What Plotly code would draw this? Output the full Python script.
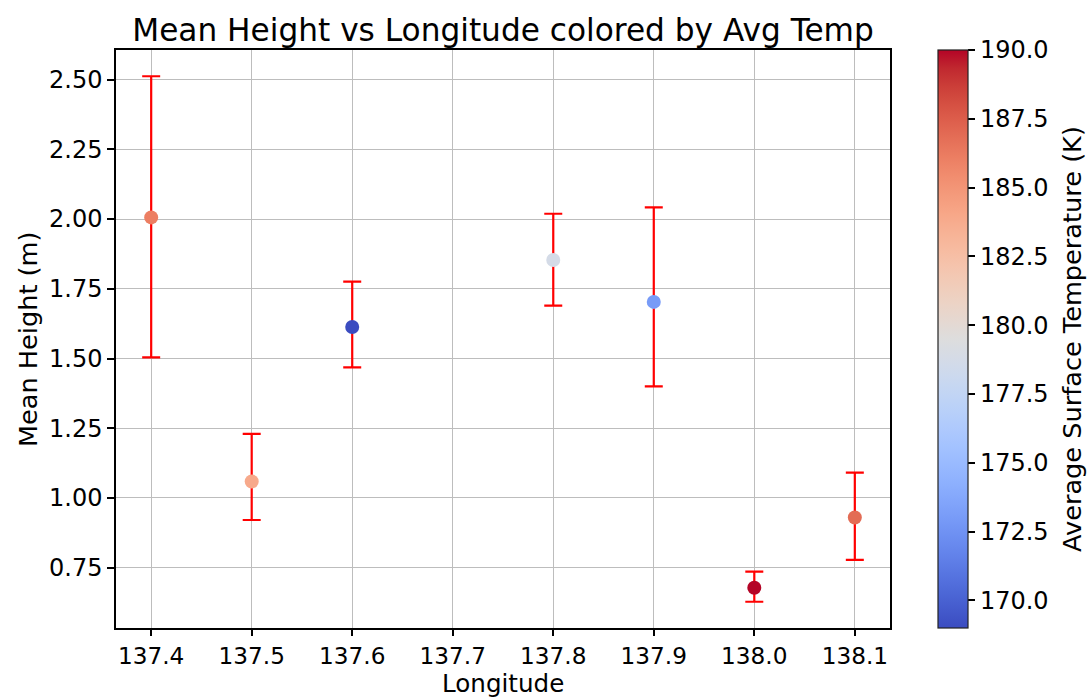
import plotly.graph_objects as go

# Site measurements
longitude = [137.4, 137.5, 137.6, 137.8, 137.9, 138.0, 138.1]
mean_height = [2.006, 1.059, 1.613, 1.853, 1.703, 0.678, 0.930]
height_err_plus = [0.506, 0.171, 0.163, 0.166, 0.339, 0.058, 0.161]
height_err_minus = [0.502, 0.138, 0.145, 0.163, 0.303, 0.050, 0.152]
avg_temp = [186.1, 183.9, 169.0, 178.8, 173.0, 190.0, 186.9]

x_ticks = [137.4, 137.5, 137.6, 137.7, 137.8, 137.9, 138.0, 138.1]
y_ticks = [0.75, 1.00, 1.25, 1.50, 1.75, 2.00, 2.25, 2.50]
cbar_ticks = [170.0, 172.5, 175.0, 177.5, 180.0, 182.5, 185.0, 187.5, 190.0]

# Moreland "coolwarm" diverging map
coolwarm_rgb = [
    (59, 76, 192), (68, 90, 204), (77, 104, 215), (87, 117, 225),
    (98, 130, 234), (108, 142, 241), (119, 154, 247), (130, 165, 251),
    (141, 176, 254), (152, 185, 255), (163, 194, 255), (174, 201, 253),
    (184, 208, 249), (194, 213, 244), (204, 217, 238), (213, 219, 230),
    (221, 221, 221), (229, 216, 209), (236, 211, 197), (241, 204, 185),
    (245, 196, 173), (247, 187, 160), (247, 177, 148), (247, 166, 135),
    (244, 154, 123), (241, 141, 111), (236, 127, 99), (229, 112, 88),
    (222, 96, 77), (213, 80, 66), (203, 62, 56), (192, 40, 47),
    (180, 4, 38),
]
n = len(coolwarm_rgb) - 1
coolwarm = [[i / n, f"rgb{c}"] for i, c in enumerate(coolwarm_rgb)]

FONT = "DejaVu Sans"
W, H = 1091, 698
L, R, T, B = 116, 890, 50, 628

# axis limits with 5% padding around the data (error bars included)
lo_x, hi_x = min(longitude), max(longitude)
px = 0.05 * (hi_x - lo_x)
lows = [h - e for h, e in zip(mean_height, height_err_minus)]
highs = [h + e for h, e in zip(mean_height, height_err_plus)]
lo_y, hi_y = min(lows), max(highs)
py = 0.05 * (hi_y - lo_y)

fig = go.Figure()
fig.add_trace(go.Scatter(
    x=longitude, y=mean_height, mode="markers",
    error_y=dict(type="data", symmetric=False,
                 array=height_err_plus, arrayminus=height_err_minus,
                 visible=True, color="#ff0000", thickness=2.2, width=9),
    marker=dict(size=14, color=avg_temp, colorscale=coolwarm,
                cmin=min(avg_temp), cmax=max(avg_temp),
                line=dict(width=0), opacity=1,
                showscale=True,
                colorbar=dict(
                    x=(938.3 - L) / (R - L), xanchor="left", xref="paper",
                    y=0.5, yanchor="middle", len=1, lenmode="fraction",
                    thickness=29.5, thicknessmode="pixels",
                    xpad=0, ypad=0,
                    outlinewidth=1.2, outlinecolor="#222",
                    tickvals=cbar_ticks, tickformat=".1f",
                    ticks="outside", ticklen=7, tickwidth=1.5, tickcolor="black",
                    tickfont=dict(family=FONT, size=24, color="black"),
                )),
    showlegend=False,
    hoverinfo="skip",
))

axis_common = dict(
    showline=True, mirror=True, linecolor="black", linewidth=1.5,
    showgrid=True, gridcolor="#bdbdbd", gridwidth=1.2,
    tickwidth=1.5, tickcolor="black", ticks="outside",
    zeroline=False,
)

fig.update_xaxes(range=[lo_x - px, hi_x + px], tickvals=x_ticks,
                 tickformat=".1f", ticklen=6,
                 tickfont=dict(family=FONT, size=23.2, color="black"),
                 **axis_common)
fig.update_yaxes(range=[lo_y - py, hi_y + py], tickvals=y_ticks,
                 tickformat=".2f", ticklen=7,
                 tickfont=dict(family=FONT, size=24, color="black"),
                 **axis_common)

fig.update_layout(
    width=W, height=H,
    margin=dict(l=L, r=W - R, t=T, b=H - B, pad=0),
    paper_bgcolor="white", plot_bgcolor="white",
    font=dict(family=FONT, color="black"),
    title=dict(text="Mean Height vs Longitude colored by Avg Temp",
               font=dict(family=FONT, size=31.2, color="black"),
               xref="paper", x=0.5, xanchor="center",
               yref="container", y=1 - 30 / H, yanchor="middle"),
    annotations=[
        dict(text="Longitude", xref="paper", yref="paper",
             x=0.5, y=-(683.4 - B) / (B - T), xanchor="center", yanchor="middle",
             showarrow=False, borderpad=0,
             font=dict(family=FONT, size=24.6, color="black")),
        dict(text="Mean Height (m)", xref="paper", yref="paper",
             x=-(L - 28) / (R - L), y=(B - 339) / (B - T),
             xanchor="center", yanchor="middle", textangle=-90,
             showarrow=False, font=dict(family=FONT, size=25.6, color="black")),
        dict(text="Average Surface Temperature (K)", xref="paper", yref="paper",
             x=(1072 - L) / (R - L), y=(B - 339) / (B - T),
             xanchor="center", yanchor="middle", textangle=-90,
             showarrow=False, font=dict(family=FONT, size=25.6, color="black")),
    ],
)

fig.write_html("out.html")
